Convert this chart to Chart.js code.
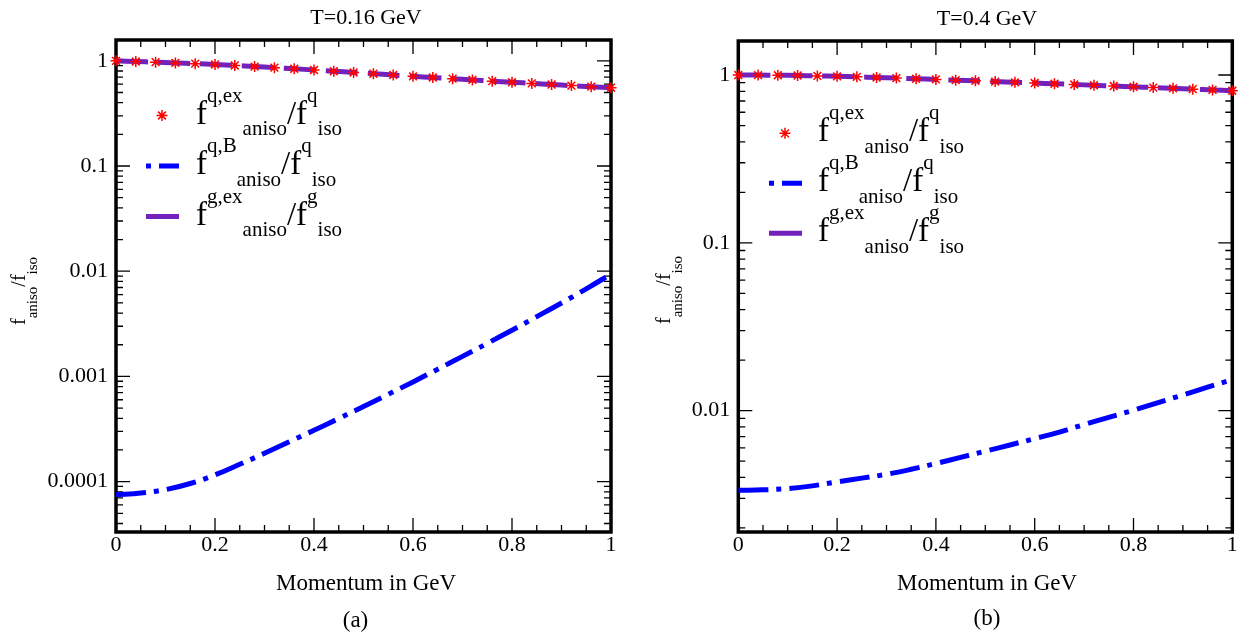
<!DOCTYPE html>
<html>
<head>
<meta charset="utf-8">
<script src="https://cdn.jsdelivr.net/npm/chart.js@4/dist/chart.umd.min.js"></script>
<style>
  html, body { margin: 0; padding: 0; background: #fff; width: 1247px; height: 637px; overflow: hidden; }
  canvas { position: absolute; left: 0; top: 0; }
</style>
</head>
<body>
<canvas id="chartA" width="1247" height="637"></canvas>
<canvas id="chartB" width="1247" height="637"></canvas>
<script>
// DATA
const momentumStar = [0, 0.04, 0.08, 0.12, 0.16, 0.2, 0.24, 0.28, 0.32, 0.36, 0.4, 0.44, 0.48,
  0.52, 0.56, 0.6, 0.64, 0.68, 0.72, 0.76, 0.8, 0.84, 0.88, 0.92, 0.96, 1];
const momentumLine = [0, 0.05, 0.1, 0.15, 0.2, 0.25, 0.3, 0.35, 0.4, 0.45, 0.5,
  0.55, 0.6, 0.65, 0.7, 0.75, 0.8, 0.85, 0.9, 0.95, 1];

// T = 0.16 GeV
const quarkExA = [1.000, 0.985, 0.970, 0.955, 0.940, 0.923, 0.903, 0.882, 0.861, 0.840, 0.818, 0.796, 0.775,
  0.754, 0.733, 0.712, 0.694, 0.676, 0.658, 0.641, 0.625, 0.610, 0.595, 0.581, 0.568, 0.555];
const gluonExA = [1.000, 0.985, 0.970, 0.955, 0.940, 0.923, 0.903, 0.882, 0.861, 0.840, 0.818, 0.796, 0.775,
  0.754, 0.733, 0.712, 0.694, 0.676, 0.658, 0.641, 0.625, 0.610, 0.595, 0.581, 0.568, 0.555];
const quarkBA = [7.5e-5, 7.8e-5, 8.4e-5, 9.6e-5, 1.16e-4, 1.46e-4, 1.86e-4, 2.39e-4, 3.08e-4, 3.98e-4, 5.18e-4,
  6.76e-4, 8.87e-4, 1.17e-3, 1.55e-3, 2.06e-3, 2.75e-3, 3.70e-3, 4.99e-3, 6.8e-3, 9.4e-3];

// T = 0.4 GeV
const quarkExB = [1.000, 0.999, 0.997, 0.993, 0.988, 0.982, 0.975, 0.967, 0.959, 0.950, 0.941, 0.932, 0.923,
  0.914, 0.905, 0.896, 0.887, 0.878, 0.869, 0.860, 0.851, 0.842, 0.833, 0.824, 0.815, 0.806];
const gluonExB = [1.000, 0.999, 0.997, 0.993, 0.988, 0.982, 0.975, 0.967, 0.959, 0.950, 0.941, 0.932, 0.923,
  0.914, 0.905, 0.896, 0.887, 0.878, 0.869, 0.860, 0.851, 0.842, 0.833, 0.824, 0.815, 0.806];
const quarkBB = [3.35e-3, 3.37e-3, 3.43e-3, 3.56e-3, 3.76e-3, 3.96e-3, 4.17e-3, 4.47e-3, 4.84e-3, 5.26e-3, 5.73e-3,
  6.24e-3, 6.81e-3, 7.45e-3, 8.26e-3, 9.12e-3, 1.005e-2, 1.117e-2, 1.24e-2, 1.38e-2, 1.53e-2];

// TICKS
const xTicks = [0, 0.2, 0.4, 0.6, 0.8, 1];
const yTicksA = [1, 0.1, 0.01, 0.001, 0.0001];
const yTicksB = [1, 0.1, 0.01];

const legendLabels = [
  [["f", "main"], ["q,ex", "sup"], ["aniso", "sub"], ["/f", "main"], ["q", "sup"], ["iso", "sub"]],
  [["f", "main"], ["q,B", "sup"], ["aniso", "sub"], ["/f", "main"], ["q", "sup"], ["iso", "sub"]],
  [["f", "main"], ["g,ex", "sup"], ["aniso", "sub"], ["/f", "main"], ["g", "sup"], ["iso", "sub"]]
];
const yTitle = [["f", "main"], ["aniso", "sub"], ["/f", "main"], ["iso", "sub"]];

const SERIF = "'Liberation Serif', 'Times New Roman', serif";
const RED = "#ff0000", BLUE = "#0000ff", INDIGO = "#7221bc";
const BLUE_DASH = [30, 8, 5, 8];
const INDIGO_DASH = [32, 10];

Chart.defaults.font.family = SERIF;
Chart.defaults.font.size = 22;
Chart.defaults.color = "#000";

// draw text with super/subscripts one piece after another
function drawRich(ctx, x, y, parts, mainSize, smallSize, supDy, subDy) {
  ctx.textAlign = "left";
  ctx.textBaseline = "alphabetic";
  parts.forEach(([text, kind]) => {
    const size = kind === "main" ? mainSize : smallSize;
    const dy = kind === "sup" ? supDy : kind === "sub" ? subDy : 0;
    ctx.font = size + "px " + SERIF;
    ctx.fillText(text, x, y + dy);
    x += ctx.measureText(text).width;
  });
}

function drawStar(ctx, x, y, r) {
  ctx.save();
  ctx.strokeStyle = RED;
  ctx.lineWidth = 1.5;
  ctx.beginPath();
  for (let k = 0; k < 4; k++) {
    const a = k * Math.PI / 4;
    ctx.moveTo(x - r * Math.cos(a), y - r * Math.sin(a));
    ctx.lineTo(x + r * Math.cos(a), y + r * Math.sin(a));
  }
  ctx.stroke();
  ctx.restore();
}

function makeDecor(p) {
  return {
    id: "decor",
    beforeDatasetsDraw(chart) {
      const { ctx, chartArea: a } = chart;
      const xs = chart.scales.x, ys = chart.scales.y;
      ctx.save();
      ctx.strokeStyle = "#000";
      ctx.lineWidth = 1.3;
      ctx.beginPath();
      // x ticks, bottom and top
      for (let i = 0; i <= 20; i++) {
        const v = i * 0.05;
        const px = xs.getPixelForValue(v);
        const len = i % 4 === 0 ? 14 : 7;
        ctx.moveTo(px, a.bottom); ctx.lineTo(px, a.bottom - len);
        ctx.moveTo(px, a.top); ctx.lineTo(px, a.top + len);
      }
      // y ticks, left and right
      const e0 = Math.floor(Math.log10(p.yMin)), e1 = Math.ceil(Math.log10(p.yMax));
      for (let e = e0; e <= e1; e++) {
        for (let m = 1; m <= 9; m++) {
          const v = m * Math.pow(10, e);
          if (v < p.yMin || v > p.yMax) continue;
          const py = ys.getPixelForValue(v);
          const len = m === 1 ? 14 : 7;
          ctx.moveTo(a.left, py); ctx.lineTo(a.left + len, py);
          ctx.moveTo(a.right, py); ctx.lineTo(a.right - len, py);
        }
      }
      ctx.stroke();
      ctx.lineWidth = 3.5;
      ctx.strokeRect(a.left, a.top, a.right - a.left, a.bottom - a.top);
      ctx.restore();
    },
    afterDraw(chart) {
      const { ctx, chartArea: a } = chart;
      ctx.save();
      ctx.fillStyle = "#000";
      ctx.textAlign = "center";
      ctx.textBaseline = "alphabetic";
      ctx.font = "22px " + SERIF;
      ctx.fillText(p.title, p.titleX, p.titleY);
      ctx.font = "23px " + SERIF;
      ctx.fillText("Momentum in GeV", p.xTitleX, 590);
      ctx.fillText(p.caption, p.captionX, p.captionY);

      // y axis title, rotated
      ctx.save();
      ctx.translate(p.yTitleX, p.yTitleY);
      ctx.rotate(-Math.PI / 2);
      drawRich(ctx, 0, 0, yTitle, 20, 15, -9, 12);
      ctx.restore();

      // legend
      const lx = p.legendX, ly = p.legendY;
      drawStar(ctx, lx, ly[0], 5.5);
      ctx.lineCap = "butt";
      ctx.lineWidth = 5;
      ctx.strokeStyle = BLUE;
      ctx.setLineDash(BLUE_DASH);
      ctx.lineDashOffset = BLUE_DASH[0] + BLUE_DASH[1];
      ctx.beginPath(); ctx.moveTo(lx - 16, ly[1]); ctx.lineTo(lx + 17, ly[1]); ctx.stroke();
      ctx.setLineDash([]);
      ctx.strokeStyle = INDIGO;
      ctx.beginPath(); ctx.moveTo(lx - 16, ly[2]); ctx.lineTo(lx + 17, ly[2]); ctx.stroke();
      ctx.fillStyle = "#000";
      legendLabels.forEach((parts, i) => {
        drawRich(ctx, p.legendTextX, ly[i] + 8, parts, 33, 21, -22, 11.7);
      });
      ctx.restore();
    }
  };
}

function buildChart(p) {
  new Chart(document.getElementById(p.id), {
    type: "line",
    data: {
      datasets: [
        {
          label: "q,ex",
          data: momentumStar.map((x, i) => ({ x, y: p.quarkEx[i] })),
          showLine: false,
          pointStyle: "star",
          pointRadius: 5.5,
          pointBorderWidth: 1.5,
          borderColor: RED,
          backgroundColor: RED,
          clip: false,
          order: 0
        },
        {
          label: "g,ex",
          data: momentumStar.map((x, i) => ({ x, y: p.gluonEx[i] })),
          borderColor: INDIGO,
          borderWidth: 5,
          borderDash: INDIGO_DASH,
          borderCapStyle: "butt",
          pointRadius: 0,
          tension: 0.3,
          order: 1
        },
        {
          label: "q,B",
          data: momentumLine.map((x, i) => ({ x, y: p.quarkB[i] })),
          borderColor: BLUE,
          borderWidth: 5,
          borderDash: BLUE_DASH,
          borderCapStyle: "butt",
          pointRadius: 0,
          tension: 0.4,
          order: 2
        }
      ]
    },
    options: {
      responsive: false,
      animation: false,
      events: [],
      layout: { padding: { left: p.padLeft, right: p.padRight, top: p.padTop, bottom: 0 } },
      plugins: { legend: { display: false }, tooltip: { enabled: false }, title: { display: false } },
      scales: {
        x: {
          type: "linear",
          min: 0,
          max: 1,
          grid: { display: false, drawTicks: false },
          border: { display: false },
          ticks: { padding: 0, autoSkip: false, maxRotation: 0, callback: v => String(v) },
          afterBuildTicks: axis => { axis.ticks = xTicks.map(v => ({ value: v })); },
          afterFit: axis => { axis.height = 637 - p.bottom; axis.paddingLeft = 0; axis.paddingRight = 0; }
        },
        y: {
          type: "logarithmic",
          min: p.yMin,
          max: p.yMax,
          grid: { display: false, drawTicks: false },
          border: { display: false },
          ticks: { padding: 8, autoSkip: false, callback: v => String(v) },
          afterBuildTicks: axis => { axis.ticks = p.yTicks.map(v => ({ value: v })); },
          afterFit: axis => { axis.width = p.yWidth; axis.paddingTop = 0; axis.paddingBottom = 0; }
        }
      }
    },
    plugins: [makeDecor(p)]
  });
}

buildChart({
  id: "chartA", quarkEx: quarkExA, gluonEx: gluonExA, quarkB: quarkBA, yTicks: yTicksA,
  yMin: 3.32e-5, yMax: 1.577,
  padLeft: 0, yWidth: 116, padRight: 1247 - 611, padTop: 40, bottom: 532,
  title: "T=0.16 GeV", titleX: 366, titleY: 23.5, xTitleX: 366,
  caption: "(a)", captionX: 355.5, captionY: 627,
  yTitleX: 25, yTitleY: 325,
  legendX: 162, legendY: [115.5, 166, 216.5], legendTextX: 196
});

buildChart({
  id: "chartB", quarkEx: quarkExB, gluonEx: gluonExB, quarkB: quarkBB, yTicks: yTicksB,
  yMin: 1.89e-3, yMax: 1.595,
  padLeft: 623, yWidth: 115.3, padRight: 1247 - 1232.3, padTop: 41, bottom: 532,
  title: "T=0.4 GeV", titleX: 987, titleY: 24.5, xTitleX: 987,
  caption: "(b)", captionX: 987, captionY: 625,
  yTitleX: 670, yTitleY: 324,
  legendX: 785, legendY: [133.3, 183.3, 233.3], legendTextX: 818
});
</script>
</body>
</html>
